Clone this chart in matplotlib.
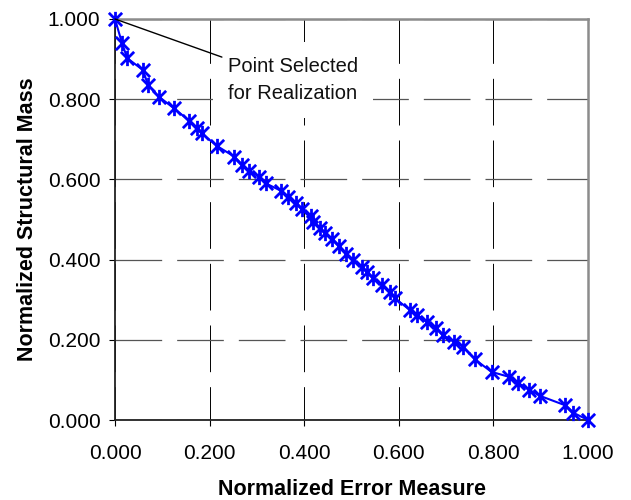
"""Normalized structural mass vs. normalized error measure (Pareto front)."""

import matplotlib

matplotlib.use("Agg")
import matplotlib.pyplot as plt
from matplotlib.path import Path

plt.rcParams["font.family"] = ["Liberation Sans", "DejaVu Sans"]
plt.rcParams["lines.scale_dashes"] = False

error_measure = [
    0.000, 0.015, 0.026, 0.059, 0.070, 0.093, 0.125, 0.157, 0.173, 0.183,
    0.216, 0.252, 0.268, 0.284, 0.305, 0.319, 0.352, 0.366, 0.382, 0.395,
    0.414, 0.419, 0.433, 0.444, 0.458, 0.474, 0.489, 0.504, 0.522, 0.532,
    0.546, 0.564, 0.581, 0.592, 0.624, 0.639, 0.659, 0.679, 0.693, 0.717,
    0.736, 0.761, 0.796, 0.832, 0.853, 0.876, 0.899, 0.951, 0.969, 1.000,
]
structural_mass = [
    1.000, 0.939, 0.902, 0.873, 0.835, 0.806, 0.777, 0.746, 0.727, 0.715,
    0.683, 0.657, 0.636, 0.621, 0.607, 0.590, 0.571, 0.557, 0.541, 0.525,
    0.509, 0.495, 0.478, 0.466, 0.451, 0.434, 0.414, 0.399, 0.382, 0.370,
    0.353, 0.337, 0.320, 0.303, 0.274, 0.262, 0.245, 0.229, 0.212, 0.195,
    0.183, 0.151, 0.120, 0.108, 0.092, 0.075, 0.060, 0.037, 0.018, 0.000,
]
ticks = [0.0, 0.2, 0.4, 0.6, 0.8, 1.0]
tick_labels = [f"{t:.3f}" for t in ticks]

selected = (0.000, 1.000)
label_anchor = (0.226, 0.905)
label_text = "Point Selected\nfor Realization"
label_pos = (0.239, 0.848)

# Excel-style asterisk: an X with a vertical bar through it
asterisk = Path(
    [(-1, -1), (1, 1), (-1, 1), (1, -1), (0, -1.15), (0, 1.15)],
    [Path.MOVETO, Path.LINETO, Path.MOVETO, Path.LINETO, Path.MOVETO, Path.LINETO],
)

fig = plt.figure(figsize=(6.31, 5.0), dpi=100)
ax = fig.add_axes([115 / 631, 80 / 500, 473 / 631, 401 / 500])

ax.plot(error_measure, structural_mass, color="#0000ff", lw=1.5,
        marker=asterisk, markersize=11, markeredgewidth=2.0,
        markerfacecolor="none", markeredgecolor="#0000ff", clip_on=False, zorder=3)

ax.text(*label_pos, label_text, fontsize=14.5, ha="left", va="center",
        linespacing=1.55, color="#111111", zorder=4,
        bbox=dict(boxstyle="square,pad=0.75", facecolor="white", edgecolor="none"))
ax.annotate("", xy=selected, xytext=label_anchor, zorder=5,
            arrowprops=dict(arrowstyle="-", color="black", lw=1.0,
                            shrinkA=0, shrinkB=0))

ax.set_xlim(0, 1)
ax.set_ylim(0, 1)
ax.set_xticks(ticks)
ax.set_xticklabels(tick_labels)
ax.set_yticks(ticks)
ax.set_yticklabels(tick_labels)
ax.tick_params(axis="both", direction="out", length=4.5, width=0.8,
               labelsize=15, pad=6, color="black")
ax.tick_params(axis="x", pad=13)

ax.xaxis.grid(True, color="black", lw=0.7, linestyle=(9.6, (33.6, 10.8)))
ax.yaxis.grid(True, color="#555555", lw=0.9, linestyle=(0, (33.6, 10.8)))
ax.set_axisbelow(True)

for side in ("top", "right"):
    ax.spines[side].set_color("#8c8c8c")
    ax.spines[side].set_linewidth(1.8)
for side in ("left", "bottom"):
    ax.spines[side].set_color("#222222")
    ax.spines[side].set_linewidth(1.3)

ax.set_xlabel("Normalized Error Measure", fontsize=15.5, fontweight="bold", labelpad=11)
ax.set_ylabel("Normalized Structural Mass", fontsize=15.5, fontweight="bold", labelpad=7)

fig.savefig("out.png", dpi=100)
